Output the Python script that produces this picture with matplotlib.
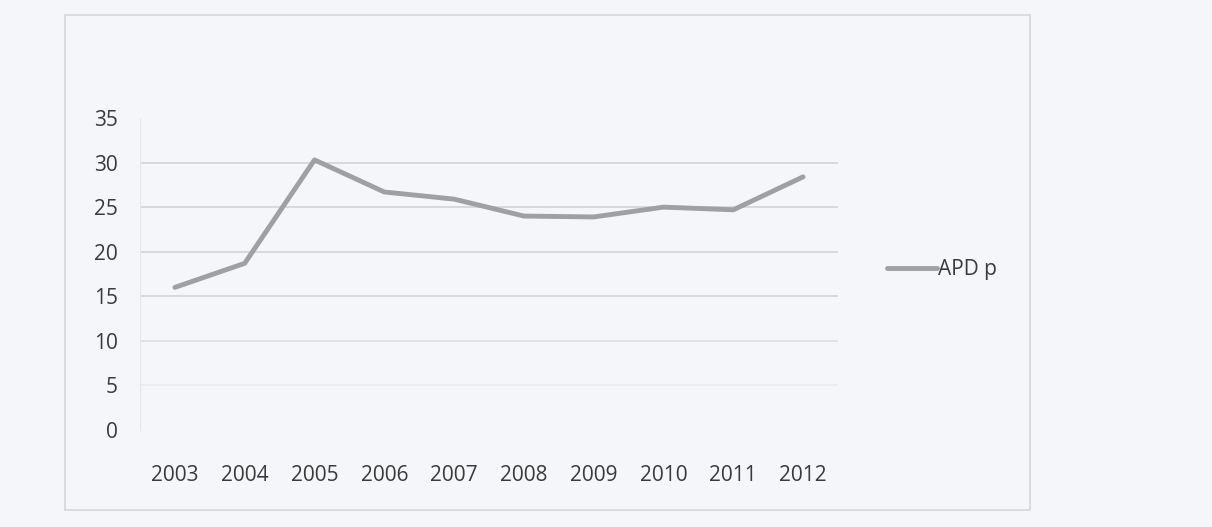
import matplotlib.pyplot as plt
from matplotlib.patches import Rectangle

years = ["2003", "2004", "2005", "2006", "2007", "2008", "2009", "2010", "2011", "2012"]
apd_p = [16.0, 18.7, 30.3, 26.7, 25.9, 24.0, 23.9, 25.0, 24.7, 28.4]
y_ticks = [0, 5, 10, 15, 20, 25, 30, 35]

plt.rcParams['font.family'] = ['Open Sans', 'DejaVu Sans']

fig = plt.figure(figsize=(12.12, 5.27), dpi=100)
fig.patch.set_facecolor('#f5f6f9')

# outer chart border
fig.patches.append(Rectangle((65 / 1212, 1 - 510 / 527), 965 / 1212, 495 / 527,
                             transform=fig.transFigure, fill=False,
                             edgecolor='#d4d6da', linewidth=1.2))

ax = fig.add_axes([140 / 1212, 1 - 430 / 527, 698 / 1212, 312 / 527])
ax.set_facecolor('none')

x = list(range(len(years)))
ax.plot(x, apd_p, color='#a0a0a2', linewidth=3.5, label='APD p', solid_capstyle='round')

ax.set_xlim(-0.5, len(years) - 0.5)
ax.set_ylim(0, 35)
ax.set_yticks(y_ticks)
ax.set_xticks(x)
ax.set_xticklabels(years)

# gridlines (faded like the scan)
for t in y_ticks[1:-1]:
    a = 0.3 if t <= 5 else (0.6 if t == 10 else 0.9)
    ax.axhline(t, color='#d2d3d6', linewidth=1.3, alpha=a, zorder=0)

for s in ax.spines.values():
    s.set_visible(False)
ax.spines['left'].set_visible(True)
ax.spines['left'].set_color('#e6e7ea')
ax.tick_params(axis='both', length=0, colors='#3a3a3a', labelsize=15)
ax.tick_params(axis='x', pad=25)
ax.tick_params(axis='y', pad=16)

leg = fig.legend(loc='center left', bbox_to_anchor=(868 / 1212, 1 - 270 / 527),
                 frameon=False, fontsize=15, handlelength=2.4, handletextpad=0.05)
for t in leg.get_texts():
    t.set_color('#3a3a3a')

plt.savefig("out.png", dpi=100, facecolor=fig.get_facecolor())
